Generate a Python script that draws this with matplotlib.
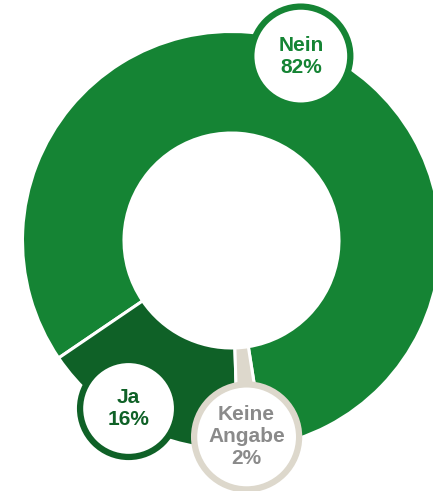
import numpy as np
import matplotlib.pyplot as plt
from matplotlib.patches import Circle

# Data
labels = ["Nein", "Ja", "Keine\nAngabe"]
shares = [82, 16, 2]

# Styles
wedge_colors = ["#158434", "#0f6127", "#ddd8cc"]
ring_colors = ["#158434", "#0f6127", "#ddd8cc"]
text_colors = ["#158434", "#0f6127", "#8a8a8a"]
label_nudge = [2.8, -4.5, -1.0]  # degrees, to place the label bubbles

W, H = 433, 491
fig = plt.figure(figsize=(W / 100, H / 100), dpi=100)
ax = fig.add_axes([0, 0, 1, 1])

cx, cy = 231.5, H - 240.5
r_out, r_in = 209, 107.5

wedges, _ = ax.pie(shares, colors=wedge_colors, startangle=279,
                   radius=r_out, center=(cx, cy),
                   wedgeprops=dict(width=r_out - r_in, edgecolor="white",
                                   linewidth=2.2))

# label bubbles
r_lab = 197
radii = [52, 51, 55]
for w, lab, val, ring, tc, nudge, rr in zip(wedges, labels, shares, ring_colors,
                                            text_colors, label_nudge, radii):
    mid = np.deg2rad((w.theta1 + w.theta2) / 2 + nudge)
    x = cx + r_lab * np.cos(mid)
    y = cy + r_lab * np.sin(mid)
    ax.add_patch(Circle((x, y), rr - 2.5, facecolor="white", edgecolor=ring,
                        linewidth=4.5, zorder=3))
    ax.text(x, y, f"{lab}\n{val}%", ha="center", va="center",
            fontsize=15, fontweight="bold", color=tc,
            family="Liberation Sans", linespacing=1.2, zorder=4)

ax.set_xlim(0, W)
ax.set_ylim(0, H)
ax.set_aspect("equal")
ax.axis("off")

fig.savefig("out.png", dpi=100)
